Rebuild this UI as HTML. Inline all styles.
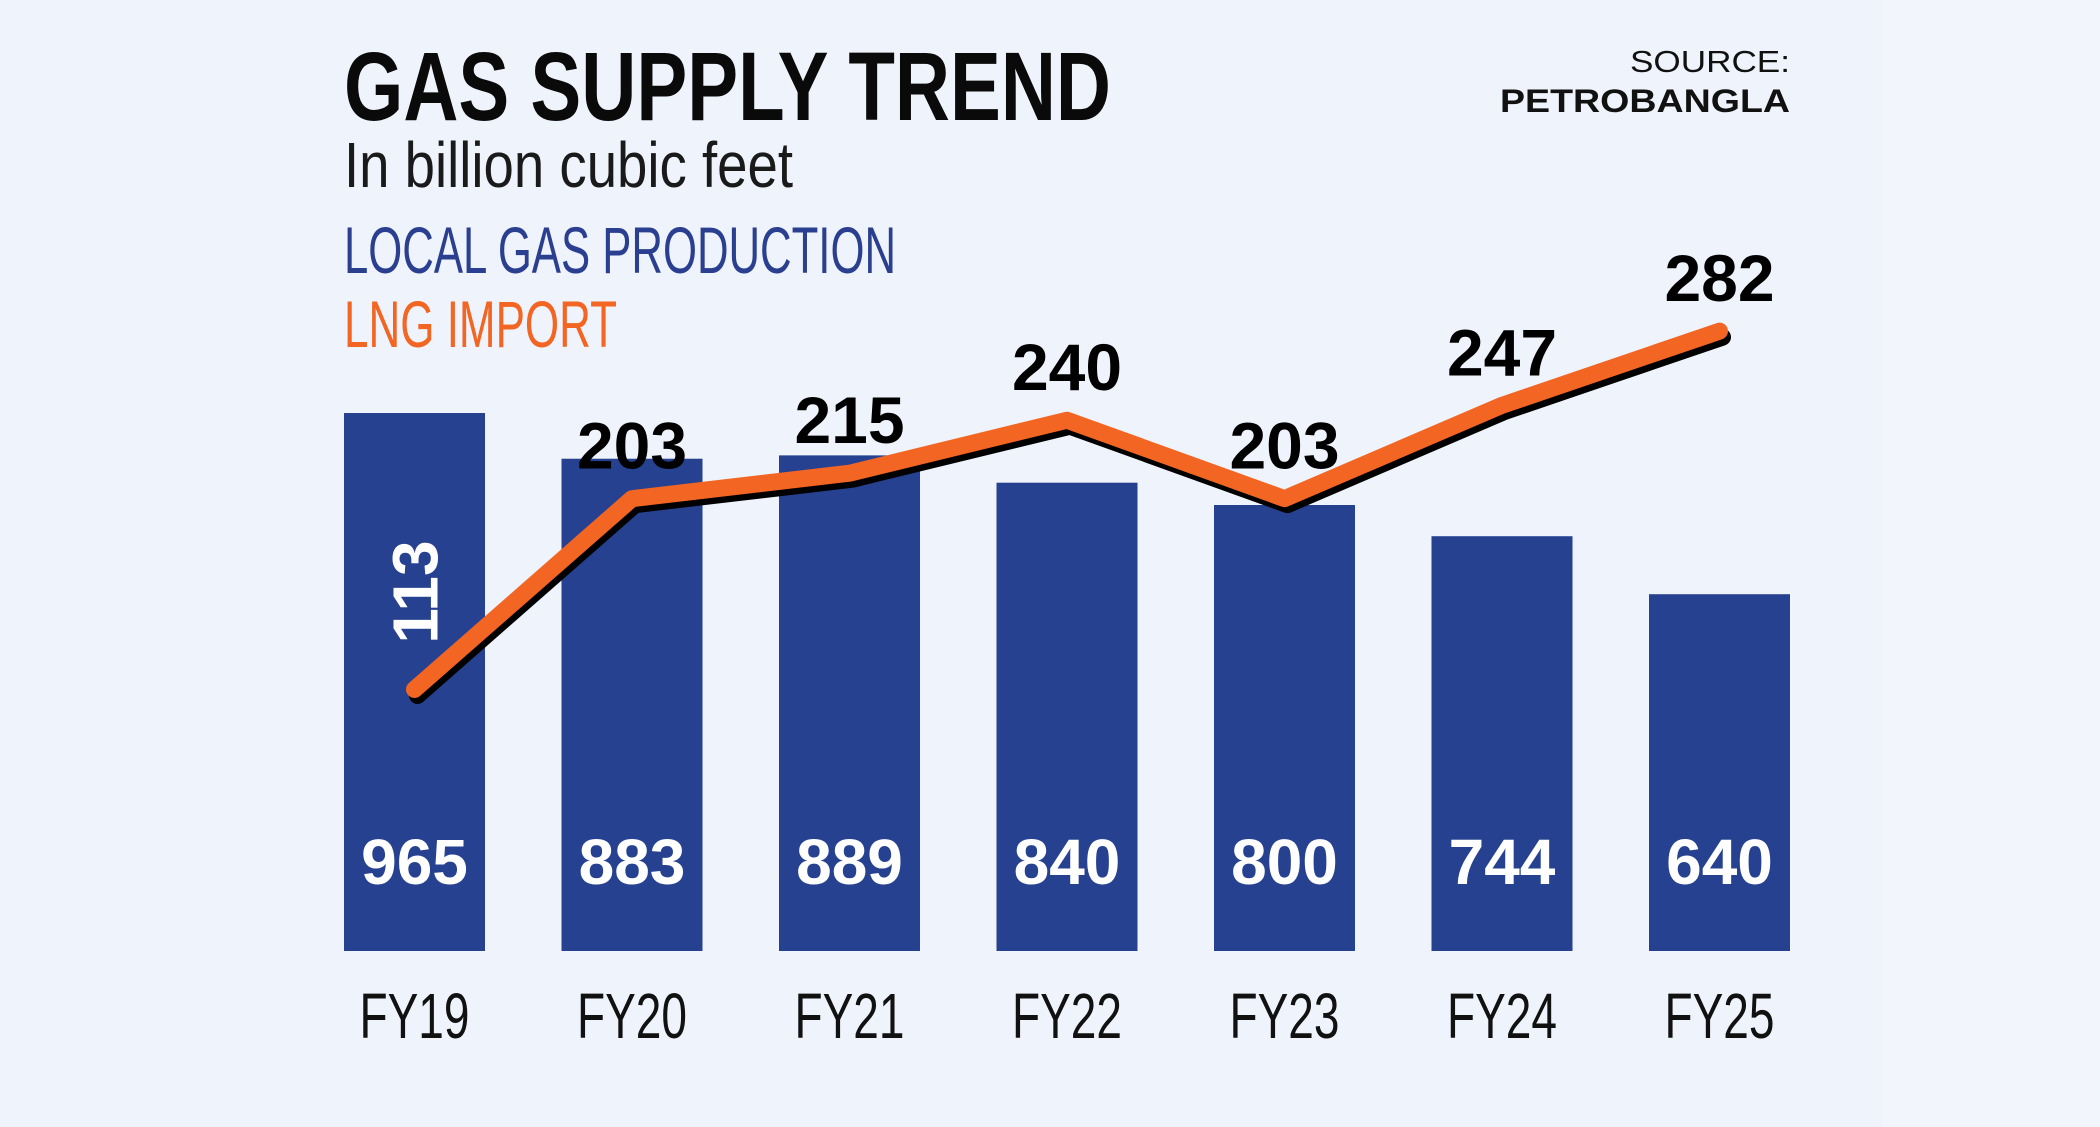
<!DOCTYPE html>
<html><head><meta charset="utf-8"><style>
html,body{margin:0;padding:0;background:#eff3fb;}
svg{display:block;}
text{font-family:"Liberation Sans",sans-serif;}
</style></head><body>
<svg id="chart" width="2100" height="1127" viewBox="0 0 2100 1127">
<rect x="0" y="0" width="1882" height="1127" fill="#eff3fb"/>
<rect x="1882" y="0" width="218" height="1127" fill="#f2f5fc"/>
<text x="344" y="120" font-size="97" font-weight="bold" fill="#0a0a0a" textLength="767" lengthAdjust="spacingAndGlyphs">GAS SUPPLY TREND</text>
<text x="344" y="187" font-size="64" fill="#1a1a1a" textLength="449" lengthAdjust="spacingAndGlyphs">In billion cubic feet</text>
<text x="344" y="273" font-size="66" fill="#2a3f8f" textLength="552" lengthAdjust="spacingAndGlyphs">LOCAL GAS PRODUCTION</text>
<text x="344" y="347" font-size="66" fill="#f26522" textLength="273" lengthAdjust="spacingAndGlyphs">LNG IMPORT</text>
<text x="1790" y="72" font-size="31" fill="#111" text-anchor="end" textLength="160" lengthAdjust="spacingAndGlyphs">SOURCE:</text>
<text x="1790" y="112" font-size="32" font-weight="bold" fill="#111" text-anchor="end" textLength="290" lengthAdjust="spacingAndGlyphs">PETROBANGLA</text>
<g id="bars"></g>
<g id="line"></g>
<g id="labels"></g>
</svg>
<script>
const categories = ["FY19","FY20","FY21","FY22","FY23","FY24","FY25"];
const localGas = [965,883,889,840,800,744,640];
const lngImport = [113,203,215,240,203,247,282];
const NS = "http://www.w3.org/2000/svg";
const x0 = 344, pitch = 217.5, barW = 141, baseY = 951;
function xLeft(i){ return x0 + i*pitch; }
function xCenter(i){ return xLeft(i) + barW/2; }
function yBar(v){ return baseY - v*0.5575; }
function yLine(v){ return 929 - v*2.12; }
function mk(tag, attrs, parent){ const e=document.createElementNS(NS,tag); for(const k in attrs) e.setAttribute(k,attrs[k]); parent.appendChild(e); return e; }
const gb=document.getElementById('bars'), gl=document.getElementById('line'), gt=document.getElementById('labels');
categories.forEach((c,i)=>{
  const r=mk('rect',{x:xLeft(i),y:yBar(localGas[i]),width:barW,height:baseY-yBar(localGas[i]),fill:'#26418f'},gb);
  
  
  const t=mk('text',{x:xCenter(i),y:884,'font-size':64,'font-weight':'bold',fill:'#fff','text-anchor':'middle'},gt);
  t.textContent=localGas[i];
  
  
  const cl=mk('text',{x:xCenter(i),y:1038,'font-size':64,fill:'#111','text-anchor':'middle',textLength:110,lengthAdjust:'spacingAndGlyphs'},gt);
  cl.textContent=c;
  
  
});
const pts = lngImport.map((v,i)=>xCenter(i)+','+yLine(v)).join(' ');
const shadowPts = lngImport.map((v,i)=>(xCenter(i)+3)+','+(yLine(v)+6)).join(' ');
const sh=mk('polyline',{points:shadowPts,fill:'none',stroke:'#000','stroke-width':17,'stroke-linecap':'round','stroke-linejoin':'round'},gl);


const ln=mk('polyline',{points:pts,fill:'none',stroke:'#f26522','stroke-width':17,'stroke-linecap':'round','stroke-linejoin':'round'},gl);


lngImport.forEach((v,i)=>{
  let t;
  if(i===0){
    const cx=xCenter(i), cy=592;
    t=mk('text',{x:cx,y:cy+23,'font-size':64,'font-weight':'bold',fill:'#fff','text-anchor':'middle',transform:'rotate(-90 '+cx+' '+cy+')'},gt);
  } else {
    t=mk('text',{x:xCenter(i),y:yLine(v)-30,'font-size':66,'font-weight':'bold',fill:'#000','text-anchor':'middle'},gt);
  }
  t.textContent=v;
  
  
});
</script>
</body></html>
